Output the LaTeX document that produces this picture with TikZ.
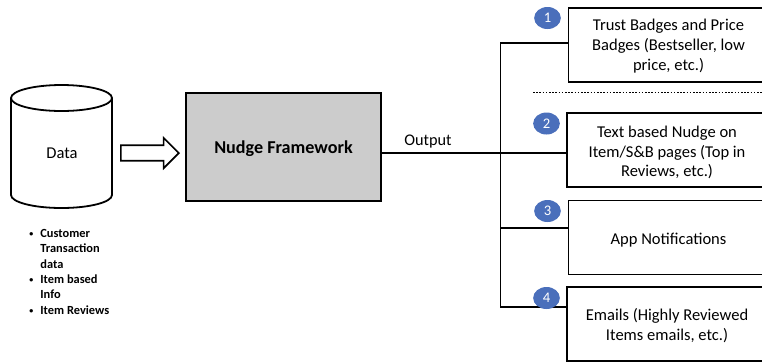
\documentclass[tikz,border=0pt]{standalone}
\usepackage{fontspec}
\setmainfont{Carlito}
\usetikzlibrary{shapes.geometric,shapes.arrows}
\definecolor{blue1}{HTML}{4A6FBB}
\newcommand{\lbul}{\makebox[9.5pt][l]{\kern1.2pt\raisebox{0.6pt}{\fontsize{6pt}{6pt}\selectfont •}}}
\newcommand{\lind}{\makebox[9.5pt][l]{}}
\tikzset{
  x=0.75pt,y=-0.75pt,
  line/.style={draw=black,line width=1.35pt},
  conn/.style={draw=black,line width=1.15pt},
  outbox/.style={line,fill=white,minimum width=150pt,minimum height=55.5pt,inner sep=0pt,anchor=center},
  outtext/.style={inner sep=0pt,align=center,font=\fontsize{12.4pt}{14.8pt}\selectfont},
  badge/.style={ellipse,fill=blue1,draw=none,minimum width=20pt,minimum height=16.5pt,inner sep=0pt,text=white,font=\fontsize{11pt}{13pt}\selectfont},
}
\begin{document}
\begin{tikzpicture}
\useasboundingbox (0,0) rectangle (762,362);
\fill[white] (0,0) rectangle (762,362);
% cylinder
\draw[line] (11,98) -- (11,195) arc[x radius=50.5,y radius=13,start angle=180,end angle=0] -- (112,98);
\draw[line] (61.5,98) ellipse[x radius=50.5,y radius=13];
\node[font=\fontsize{12.4pt}{14pt}\selectfont] (data) at (62,153.5) {Data};
% block arrow
\node[single arrow,draw=black,line width=1.2pt,fill=white,minimum width=21.5pt,minimum height=43.5pt,inner sep=5.2pt,single arrow head extend=5.6pt,single arrow tip angle=90] (flow) at (146,153) {};
% framework
\node[line,fill=black!20,minimum width=146.5pt,minimum height=81pt,inner sep=0pt] (nudge) at (283.5,147) {};
\node[font=\bfseries\fontsize{13.6pt}{15pt}\selectfont] at (283.5,149) (nudgeT) {Nudge Framework};
\node[font=\fontsize{12.2pt}{14pt}\selectfont] (out) at (428,142) {Output};
% boxes
\node[outbox] (b1) at (668.5,45) {};
\node[outbox] (b2) at (667,150) {};
\node[outbox] (b3) at (668.5,237.5) {};
\node[outbox] (b4) at (667,324) {};
\node[outtext] (t1) at (668.5,46) {Trust Badges and Price\\Badges (Bestseller, low\\price, etc.)};
\node[outtext] (t2) at (667,152.5) {Text based Nudge on\\Item/S\&B pages (Top in\\Reviews, etc.)};
\node[outtext] (t3) at (668.5,240) {App Notifications};
\node[outtext] (t4) at (667,325.5) {Emails (Highly Reviewed\\Items emails, etc.)};
% connectors
\coordinate (j1) at (500.5,43);
\coordinate (j2) at (500.5,153);
\coordinate (j3) at (500.5,228);
\coordinate (j4) at (500.5,307);
\draw[conn] (nudge.east |- j2) -- (j2) -- (j2 -| b2.west);
\draw[conn,line join=miter] (b1.west |- j1) -- (j1) -- (j4) -- (b4.west |- j4);
\draw[conn] (j3) -- (b3.west |- j3);
% dotted separator
\coordinate (d1) at (533,92.5);
\coordinate (d2) at (762,92.5);
\draw[line width=1.2pt,dash pattern=on 1.2pt off 1.2pt] (d1) -- (d2);
% badges
\node[badge] (n1) at (547.5,18) {1};
\node[badge] (n2) at (546.5,123.5) {2};
\node[badge] (n3) at (547.5,211) {3};
\node[badge] (n4) at (546.5,298) {4};
% list
\node[anchor=north west,inner sep=0pt,align=left,font=\bfseries\fontsize{9.3pt}{11.5pt}\selectfont] (list) at (27.5,229) {%
\lbul Customer\\
\lind Transaction\\
\lind data\\
\lbul Item based\\
\lind Info\\
\lbul Item Reviews};
\end{tikzpicture}
\end{document}
